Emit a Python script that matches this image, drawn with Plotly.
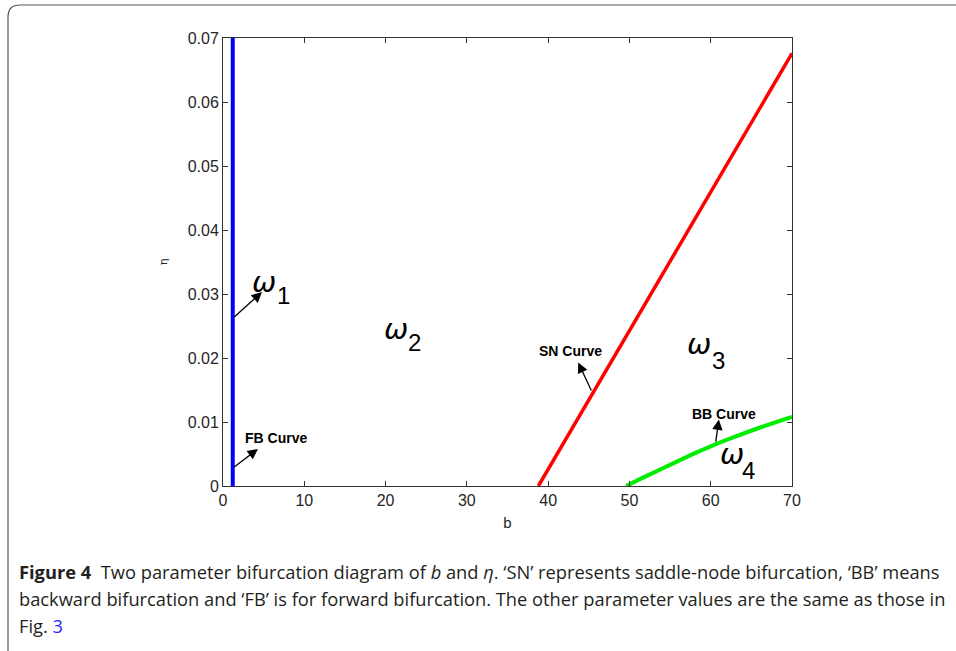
import plotly.graph_objects as go

# ---- data ----
fb_b = [1.2, 1.2]
fb_eta = [0.0, 0.07]
sn_b = [38.8, 70.0]
sn_eta = [0.0, 0.0676]
bb_b = [49.6, 52.0, 55.0, 58.0, 60.0, 63.0, 66.0, 70.0]
bb_eta = [0.0, 0.0015, 0.0033, 0.0051, 0.0062, 0.0077, 0.0091, 0.0108]
x_ticks = [0, 10, 20, 30, 40, 50, 60, 70]
y_ticks = [0, 0.01, 0.02, 0.03, 0.04, 0.05, 0.06, 0.07]
y_tick_labels = ["0", "0.01", "0.02", "0.03", "0.04", "0.05", "0.06", "0.07"]

W, H = 956, 651
L, R, T, B = 223, 792, 38, 486

fig = go.Figure()
fig.add_trace(go.Scatter(x=fb_b, y=fb_eta, mode="lines", line=dict(color="#0000ff", width=4), showlegend=False))
fig.add_trace(go.Scatter(x=sn_b, y=sn_eta, mode="lines", line=dict(color="#ff0000", width=3.5), showlegend=False))
fig.add_trace(go.Scatter(x=bb_b, y=bb_eta, mode="lines", line=dict(color="#00ee00", width=4, shape="spline"), showlegend=False))

axis_common = dict(showgrid=False, zeroline=False, showline=True, linecolor="#333333", linewidth=1,
                   mirror="ticks", ticks="inside", ticklen=5, tickcolor="#333333",
                   tickfont=dict(family="Liberation Sans, Arial", size=16, color="#262626"))
fig.update_xaxes(range=[0, 70], tickvals=x_ticks, **axis_common,
                 title=dict(text="b", font=dict(family="Liberation Sans, Arial", size=15, color="#262626"), standoff=9))
fig.update_yaxes(range=[0, 0.07], tickvals=y_ticks, ticktext=y_tick_labels, **axis_common,
                 title=dict(text="η", font=dict(family="DejaVu Serif", size=11, color="#262626"), standoff=17))

ann = []
def arrow(x, y, ax, ay):
    ann.append(dict(x=x, y=y, ax=ax, ay=ay, xref="x", yref="y", axref="x", ayref="y", text="",
                    showarrow=True, arrowhead=2, arrowsize=1.6, arrowwidth=1.3, arrowcolor="black"))

def label(text, x, y, size=13, family="Liberation Sans, Arial"):
    ann.append(dict(x=x, y=y, xref="x", yref="y", text=text,
                    showarrow=False, font=dict(family=family, size=size, color="black")))

arrow(4.8, 0.0303, 1.2, 0.0262)
arrow(4.3, 0.0058, 1.2, 0.0028)
arrow(43.7, 0.0193, 45.4, 0.0147)
arrow(61.0, 0.0104, 60.6, 0.0067)
label("<b>FB Curve</b>", 6.5, 0.0075, size=14)
label("<b>SN Curve</b>", 42.7, 0.0211, size=14)
label("<b>BB Curve</b>", 61.6, 0.0113, size=14)

omegas = [("1", 5.1, 0.0318, 7.5, 0.0297), ("2", 21.3, 0.0246, 23.5, 0.0224),
          ("3", 58.6, 0.0222, 60.9, 0.0196), ("4", 62.6, 0.0050, 64.6, 0.0024)]
for sub, wx, wy, sx, sy in omegas:
    label("<i>ω</i>", wx, wy, size=29, family="DejaVu Sans")
    label(sub, sx, sy, size=24)

def px(xp):
    return (xp - L) / (R - L)
def py(yp):
    return (B - yp) / (B - T)

cap_font = dict(family="Open Sans", size=18.3, color="#231f20")
caps = [
    (571, "<b>Figure 4</b>  Two parameter bifurcation diagram of <i>b</i> and <i>η</i>. ‘SN’ represents saddle-node bifurcation, ‘BB’ means"),
    (598, "backward bifurcation and ‘FB’ is for forward bifurcation. The other parameter values are the same as those in"),
    (625, "Fig. <span style='color:#2b2bff'>3</span>"),
]
for yp, t in caps:
    ann.append(dict(x=px(17), y=py(yp), xref="paper", yref="paper", xanchor="left", yanchor="middle",
                    text=t, showarrow=False, font=cap_font, align="left"))

r = 12
x0, y0 = 8, 5
frame = (f"M {px(x0)} {py(720)} L {px(x0)} {py(y0 + r)} Q {px(x0)} {py(y0)} {px(x0 + r)} {py(y0)} "
         f"L {px(1000)} {py(y0)}")

fig.update_layout(
    width=W, height=H, autosize=False,
    margin=dict(l=L, r=W - R, t=T, b=H - B),
    plot_bgcolor="white", paper_bgcolor="white",
    annotations=ann,
    shapes=[dict(type="path", path=frame, xref="paper", yref="paper", line=dict(color="#555555", width=1.2))],
)
fig.write_html("out.html", config={"displayModeBar": False},
               post_script="document.body.style.margin='0';")
